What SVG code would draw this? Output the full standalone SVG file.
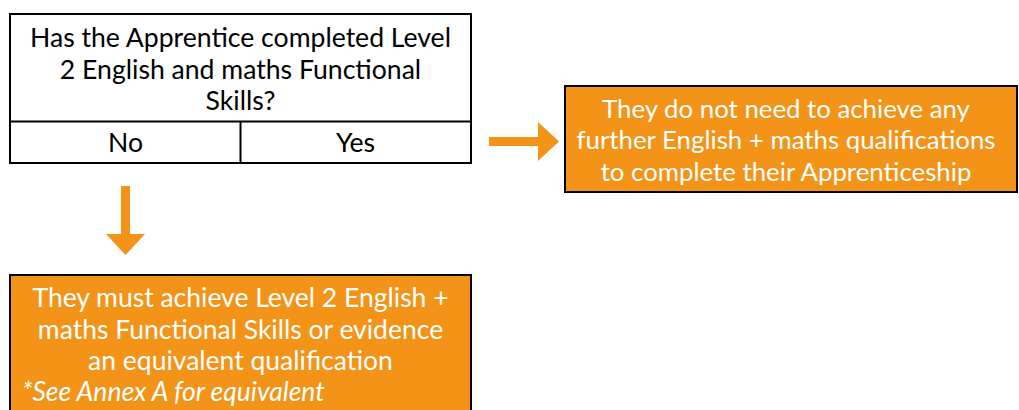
<svg xmlns="http://www.w3.org/2000/svg" width="1019" height="410" viewBox="0 0 1019 410">
  <style>
    .box { fill: #ffffff; stroke: #000000; stroke-width: 2; }
    .obox { fill: #F39418; stroke: #000000; stroke-width: 2; }
    .dt { font-family: Lato, "Liberation Sans", sans-serif; font-size: 26.6px; fill: #000000; text-anchor: middle; }
    .wt { font-family: Lato, "Liberation Sans", sans-serif; font-size: 26.5px; fill: #ffffff; text-anchor: middle; }
    .wr { font-size: 25.8px; }
    .it { font-family: Lato, "Liberation Sans", sans-serif; font-size: 26.5px; fill: #ffffff; font-style: italic; }
    .arrow { fill: #F39418; }
  </style>
  <rect width="1019" height="410" fill="#ffffff"/>
  <g id="question">
    <rect class="box" x="10" y="14" width="461" height="149"/>
    <line x1="10" y1="121.5" x2="471" y2="121.5" stroke="#000" stroke-width="2"/>
    <line x1="240.5" y1="121.5" x2="240.5" y2="163" stroke="#000" stroke-width="2"/>
    <text class="dt" x="240.5" y="47">Has the Apprentice completed Level</text>
    <text class="dt" x="240.5" y="78.5">2 English and maths Functional</text>
    <text class="dt" x="240.5" y="110">Skills?</text>
    <text class="dt" x="125.5" y="152">No</text>
    <text class="dt" x="355.5" y="152">Yes</text>
  </g>
  <g id="yes-result">
    <rect class="obox" x="565" y="86" width="452" height="106"/>
    <text class="wt wr" x="786" y="117.5">They do not need to achieve any</text>
    <text class="wt wr" x="786" y="149">further English + maths qualifications</text>
    <text class="wt wr" x="786" y="180.5">to complete their Apprenticeship</text>
  </g>
  <g id="no-result">
    <rect class="obox" x="10" y="275" width="461" height="145"/>
    <text class="wt" x="240.5" y="307">They must achieve Level 2 English +</text>
    <text class="wt" x="240.5" y="338.5">maths Functional Skills or evidence</text>
    <text class="wt" x="240.5" y="370">an equivalent qualification</text>
    <text class="it" x="22" y="401">*See Annex A for equivalent</text>
  </g>
  <g id="connectors">
    <polygon class="arrow" points="489,137 538,137 538,122 559,141.5 538,161 538,146 489,146"/>
    <polygon class="arrow" points="121,186 130,186 130,234 145,234 125.5,255 106,234 121,234"/>
  </g>
</svg>
